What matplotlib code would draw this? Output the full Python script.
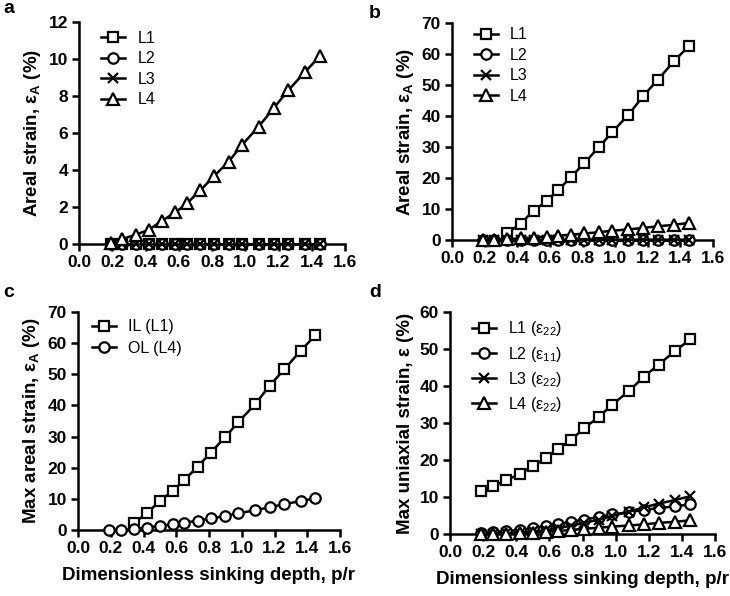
import numpy as np
import matplotlib
matplotlib.use("Agg")
from matplotlib import pyplot as plt

plt.rcParams['font.family'] = ['Liberation Sans', 'DejaVu Sans']
plt.rcParams['mathtext.fontset'] = 'custom'
plt.rcParams['mathtext.rm'] = 'Liberation Sans'
plt.rcParams['mathtext.it'] = 'Liberation Sans:italic'
plt.rcParams['mathtext.bf'] = 'Liberation Sans:bold'

# sinking depth p/r
depth = [0.19, 0.26, 0.34, 0.42, 0.50, 0.58, 0.65, 0.73, 0.81, 0.90, 0.98, 1.08, 1.17, 1.26, 1.36, 1.45]
nan = np.nan

# panel a - areal strain (%)
a_l1 = [0] * 16
a_l2 = [0] * 16
a_l3 = [0] * 16
a_l4 = [0.05, 0.27, 0.5, 0.77, 1.26, 1.71, 2.2, 2.9, 3.65, 4.45, 5.35, 6.34, 7.33, 8.32, 9.3, 10.17]

# panel b - areal strain (%)
b_l1 = [nan, nan, 2.2, 5.3, 9.4, 12.6, 16.1, 20.3, 24.8, 29.9, 34.7, 40.3, 46.3, 51.6, 57.6, 62.5]
b_l2 = [0] * 16
b_l3 = [0, 0, 0, 0, 0, 0, 0, 0, 0.1, 0.1, 0.1, 0.1, 0.1, 0.1, 0.1, 0.1]
b_l4 = [0, 0.1, 0.3, 0.5, 0.8, 1.1, 1.4, 1.7, 2.1, 2.5, 3.0, 3.4, 3.9, 4.4, 4.9, 5.5]

# panel c - max areal strain (%)
c_il = b_l1
c_ol = [0, 0, 0.3, 0.8, 1.3, 1.8, 2.3, 3.0, 3.7, 4.5, 5.4, 6.3, 7.3, 8.3, 9.3, 10.2]

# panel d - max uniaxial strain (%)
d_l1 = [11.7, 13.0, 14.5, 16.2, 18.4, 20.5, 22.9, 25.4, 28.6, 31.7, 35.0, 38.6, 42.5, 45.8, 49.5, 52.6]
d_l2 = [0.2, 0.5, 0.8, 1.1, 1.6, 2.2, 2.7, 3.3, 3.9, 4.6, 5.3, 5.9, 6.5, 7.0, 7.5, 8.0]
d_l3 = [0, 0.1, 0.2, 0.4, 0.7, 1.0, 1.6, 2.2, 3.0, 3.9, 4.9, 6.0, 7.2, 8.2, 9.2, 10.2]
d_l4 = [0, 0, 0.1, 0.2, 0.4, 0.6, 0.8, 1.1, 1.4, 1.7, 2.0, 2.3, 2.6, 3.0, 3.3, 3.7]

xticks = np.arange(0, 1.61, 0.2)
markers = {'s': 7.5, 'o': 7.5, 'x': 7.5, '^': 8.5}

fig = plt.figure(figsize=(7.3, 5.96), dpi=100)

# axes boxes in pixels (left, right, top, bottom)
boxes = {
    'a': (79, 345, 22, 244),
    'b': (452, 713, 23, 240),
    'c': (78, 340, 312, 530),
    'd': (450, 715, 312, 534),
}


def make_ax(key):
    l, r, t, b = boxes[key]
    ax = fig.add_axes([l / 730, 1 - b / 596, (r - l) / 730, (b - t) / 596])
    ax.spines['top'].set_visible(False)
    ax.spines['right'].set_visible(False)
    for s in ['left', 'bottom']:
        ax.spines[s].set_linewidth(1.8)
    ax.tick_params(direction='out', length=5, width=1.8, labelsize=12.5, pad=3)
    ax.set_xlim(0, 1.6)
    ax.set_xticks(xticks)
    ax.set_xticklabels([f'{v:.1f}' for v in xticks], fontweight='bold')
    return ax


def draw(ax, y, m, label):
    ax.plot(depth, y, color='black', lw=1.8, marker=m, markersize=markers[m],
            markerfacecolor='white', markeredgecolor='black', markeredgewidth=1.6,
            label=label, clip_on=False, zorder=3)


def finish(ax, ymax, step, ylabel, leg_kw):
    yt = np.arange(0, ymax + 0.1, step)
    ax.set_ylim(0, ymax)
    ax.set_yticks(yt)
    ax.set_yticklabels([f'{int(v)}' for v in yt], fontweight='bold')
    ax.set_ylabel(ylabel, fontsize=13.5, fontweight='bold', labelpad=4)
    ax.legend(frameon=False, fontsize=11.5, handlelength=1.5, handletextpad=0.75,
              borderaxespad=0, **leg_kw)


ax = make_ax('a')
draw(ax, a_l1, 's', 'L1')
draw(ax, a_l2, 'o', 'L2')
draw(ax, a_l3, 'x', 'L3')
draw(ax, a_l4, '^', 'L4')
finish(ax, 12, 2, r'Areal strain, ε$_{\mathbf{A}}$ (%)',
       dict(loc='upper left', bbox_to_anchor=(0.06, 0.99), labelspacing=0.35))

ax = make_ax('b')
draw(ax, b_l1, 's', 'L1')
draw(ax, b_l2, 'o', 'L2')
draw(ax, b_l3, 'x', 'L3')
draw(ax, b_l4, '^', 'L4')
finish(ax, 70, 10, r'Areal strain, ε$_{\mathbf{A}}$ (%)',
       dict(loc='upper left', bbox_to_anchor=(0.06, 1.01), labelspacing=0.35))

ax = make_ax('c')
draw(ax, c_il, 's', 'IL (L1)')
draw(ax, c_ol, 'o', 'OL (L4)')
finish(ax, 70, 10, r'Max areal strain, ε$_{\mathbf{A}}$ (%)',
       dict(loc='upper left', bbox_to_anchor=(0.03, 0.995), labelspacing=0.4))
ax.set_xlabel('Dimensionless sinking depth, p/r', fontsize=13.5, fontweight='bold', labelpad=8)

ax = make_ax('d')
draw(ax, d_l1, 's', r'L1 (ε$_{22}$)')
draw(ax, d_l2, 'o', r'L2 (ε$_{11}$)')
draw(ax, d_l3, 'x', r'L3 (ε$_{22}$)')
draw(ax, d_l4, '^', r'L4 (ε$_{22}$)')
finish(ax, 60, 10, 'Max uniaxial strain, ε (%)',
       dict(loc='upper left', bbox_to_anchor=(0.06, 0.995), labelspacing=0.38))
ax.set_xlabel('Dimensionless sinking depth, p/r', fontsize=13.5, fontweight='bold', labelpad=8)

for letter, x, y in [('a', 3, 13), ('b', 369, 18), ('c', 3, 297), ('d', 369, 297)]:
    fig.text(x / 730, 1 - y / 596, letter, fontsize=14, fontweight='bold', va='baseline')

fig.savefig('out.png', dpi=100)
